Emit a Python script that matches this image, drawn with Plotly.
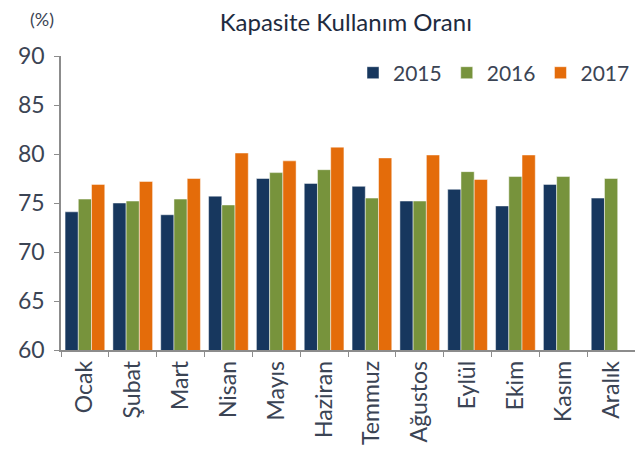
import plotly.graph_objects as go

aylar = ['Ocak', 'Şubat', 'Mart', 'Nisan', 'Mayıs', 'Haziran', 'Temmuz',
         'Ağustos', 'Eylül', 'Ekim', 'Kasım', 'Aralık']

kko_2015 = [74.1, 75.0, 73.8, 75.7, 77.5, 77.0, 76.7, 75.2, 76.4, 74.7, 76.9, 75.5]
kko_2016 = [75.4, 75.2, 75.4, 74.8, 78.1, 78.4, 75.5, 75.2, 78.2, 77.7, 77.7, 77.5]
kko_2017 = [76.9, 77.2, 77.5, 80.1, 79.3, 80.7, 79.6, 79.9, 77.4, 79.9, None, None]

yillar = ['2015', '2016', '2017']
renkler = ['#17375E', '#77933C', '#E46C0A']

fig = go.Figure()
for yil, seri, renk in zip(yillar, [kko_2015, kko_2016, kko_2017], renkler):
    fig.add_trace(go.Bar(x=aylar, y=seri, name=yil, marker_color=renk,
                         marker_line=dict(color='rgba(255,255,255,0.6)', width=0.8)))

# sayfa gövdesinin 8px kenar boşluğu yüzünden figür 8px küçük tutuldu
fig.update_layout(
    width=635, height=453,
    barmode='group', bargap=0.17, bargroupgap=0,
    plot_bgcolor='white', paper_bgcolor='white',
    font=dict(family='Lato', size=23, color='#3b4454'),
    margin=dict(l=53, r=8, t=48, b=111),
    title=dict(text='Kapasite Kullanım Oranı', x=0.532, xanchor='center',
               y=0.968, yanchor='middle',
               font=dict(size=24, color='#1e2b3f')),
    legend=dict(orientation='h', x=1.0, xanchor='right', y=0.942, yanchor='middle',
                font=dict(size=21), itemwidth=30, traceorder='normal'),
    annotations=[dict(text='(%)', xref='paper', yref='paper', x=-0.033, y=1.125,
                      xanchor='center', yanchor='middle', showarrow=False,
                      font=dict(size=18))],
)

fig.update_yaxes(range=[60, 90], dtick=5, showline=True, linecolor='#8c8c8c',
                 linewidth=1.5, ticks='outside', ticklen=5, tickcolor='#8c8c8c',
                 ticklabelstandoff=5, showgrid=False, zeroline=False)
fig.update_xaxes(showline=True, linecolor='#8c8c8c', linewidth=1.5, ticks='outside',
                 ticklen=5, tickcolor='#8c8c8c', tickson='boundaries', tickangle=-90,
                 showgrid=False)

fig.write_html("out.html")
